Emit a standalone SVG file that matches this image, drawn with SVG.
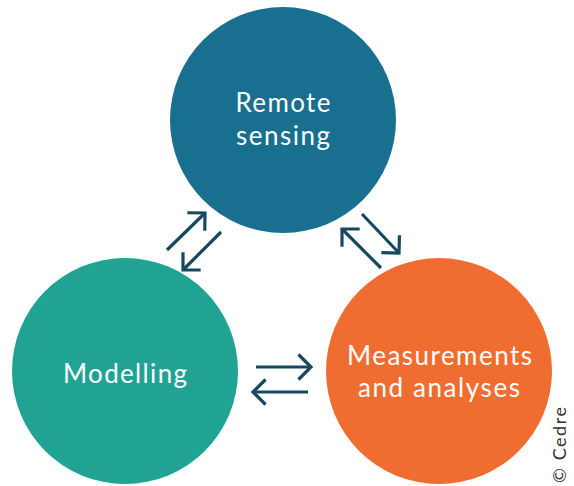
<svg xmlns="http://www.w3.org/2000/svg" width="574" height="486" viewBox="0 0 574 486">
<style>
.lbl{font-family:Lato,"Open Sans",sans-serif;font-size:26px;fill:#ffffff;text-anchor:middle}
.arr{fill:none;stroke:#17495E;stroke-width:3.2;stroke-linejoin:miter;marker-end:url(#head)}
.copy{font-family:Lato,"Open Sans",sans-serif;font-size:18px;fill:#333333}
</style>
<defs>
<marker id="head" markerUnits="userSpaceOnUse" viewBox="-16 -16 20 32" refX="0" refY="0" markerWidth="20" markerHeight="32" orient="auto" overflow="visible">
<path d="M-12.5,-12.5 L0,0 L-12.5,12.5" fill="none" stroke="#17495E" stroke-width="3.2" stroke-linejoin="miter"/>
</marker>
</defs>
<rect width="574" height="486" fill="#ffffff"/>
<g id="remote-sensing">
<circle cx="283" cy="120" r="113" fill="#186F8F"/>
<text class="lbl" x="283" y="112" textLength="95" lengthAdjust="spacing">Remote</text>
<text class="lbl" x="283" y="145" textLength="94" lengthAdjust="spacing">sensing</text>
</g>
<g id="modelling">
<circle cx="125" cy="371" r="113" fill="#21A394"/>
<text class="lbl" x="125" y="383" textLength="124" lengthAdjust="spacing">Modelling</text>
</g>
<g id="measurements">
<circle cx="439" cy="371" r="113" fill="#EF6D31"/>
<text class="lbl" x="439.5" y="365" textLength="185" lengthAdjust="spacing">Measurements</text>
<text class="lbl" x="439" y="397" textLength="162" lengthAdjust="spacing">and analyses</text>
</g>
<g id="connectors">
<path class="arr" d="M167,250 L205,213"/>
<path class="arr" d="M221,232 L183,270"/>
<path class="arr" d="M362,214 L399,253"/>
<path class="arr" d="M381,268 L342,229"/>
<path class="arr" d="M256,367 L311,367"/>
<path class="arr" d="M308,392 L253,392"/>
</g>
<text class="copy" transform="translate(566,483) rotate(-90)" textLength="76" lengthAdjust="spacing">© Cedre</text>
</svg>
